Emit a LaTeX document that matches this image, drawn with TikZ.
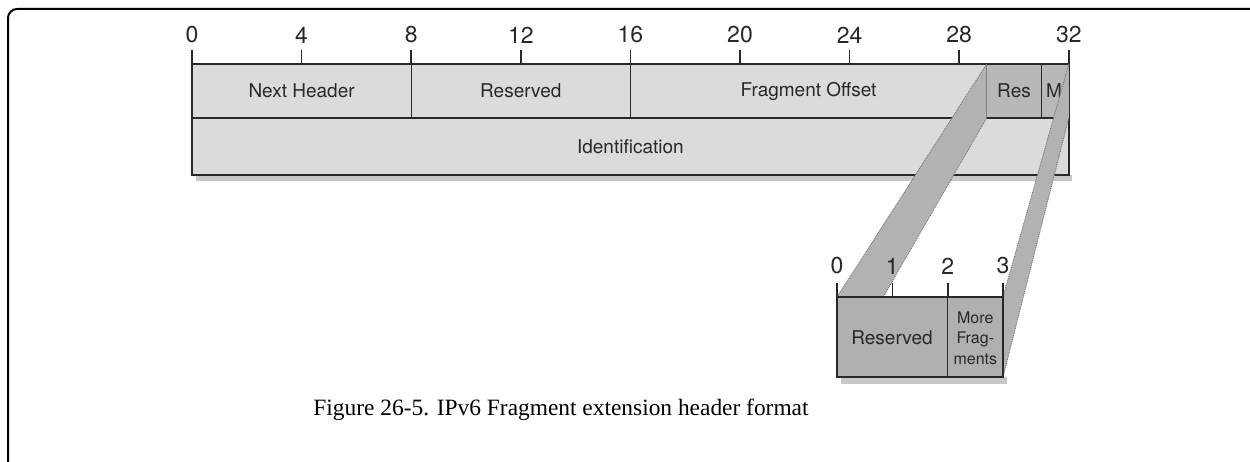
\documentclass[tikz,border=0pt]{standalone}
\usepackage{fontspec}
\setmainfont{Liberation Serif}
\newfontfamily\diafont{TeX Gyre Heros}
\definecolor{lightcell}{RGB}{219,219,219}
\definecolor{darkcell}{RGB}{184,184,184}
\definecolor{bandc}{RGB}{178,178,178}
\definecolor{boxc}{RGB}{176,176,176}
\definecolor{shadowc}{RGB}{200,200,200}
\definecolor{inkc}{RGB}{40,40,40}
\begin{document}
\begin{tikzpicture}[x=1pt,y=-1pt,
  lbl/.style={font=\diafont\fontsize{19}{21}\selectfont, text=inkc, inner sep=0pt},
  num/.style={font=\diafont\fontsize{23}{25}\selectfont, text=inkc, inner sep=0pt},
  small/.style={font=\diafont\fontsize{16}{20.5}\selectfont, text=inkc, align=center, inner sep=0pt},
  outline/.style={line width=2.6pt, draw=inkc},
  divider/.style={line width=1.3pt, draw=inkc},
  tick/.style={line width=1.6pt, draw=inkc},
  bandedge/.style={line width=0.9pt, draw=black!55, densely dotted},
  caption/.style={font=\fontsize{23.4}{26}\selectfont, inner sep=0pt}
]
\useasboundingbox (0,0) rectangle (1250,462);
% frame
\begin{scope}
  \clip (0,0) rectangle (1250,462);
  \draw[line width=2pt, rounded corners=9pt] (8,9) rectangle (1262,480);
\end{scope}

% ---------- top header ----------
\coordinate (t0) at (192,64);
\coordinate (t8) at (411.2,64);
\coordinate (t16) at (630.4,64);
\coordinate (t29) at (986.6,64);
\coordinate (t31) at (1041.4,64);
\coordinate (t32) at (1068.8,64);
\coordinate (m0) at (192,118);
\coordinate (m8) at (411.2,118);
\coordinate (m16) at (630.4,118);
\coordinate (m29) at (986.6,118);
\coordinate (m31) at (1041.4,118);
\coordinate (m32) at (1068.8,118);
\coordinate (b0) at (192,175);
\coordinate (b32) at (1068.8,175);

\fill[shadowc] (196,175) rectangle (1072,181);
\fill[lightcell] (t0) rectangle (b32);
\fill[darkcell] (t29) rectangle (m32);
\draw[divider] (m0) -- (m32);
\draw[divider] (t8) -- (m8);
\draw[divider] (t16) -- (m16);
\draw[divider] (t29) -- (m29);
\draw[divider] (t31) -- (m31);
\draw[outline] (t0) rectangle (b32);

\node[lbl] (nh) at (301.6,91) {Next Header};
\node[lbl] (rs) at (520.8,91) {Reserved};
\node[lbl] (fo) at (808.5,91) {Fragment Offset};
\node[lbl] (res) at (1014,91) {Res};
\node[lbl, anchor=west] (mf) at (1046,91) {M};
\node[lbl] (id) at (630.4,147) {Identification};

% ticks and bit numbers
\foreach \b in {0,4,...,32}{
  \pgfmathsetmacro{\xx}{192+27.4*\b}
  \draw[tick] (\xx,50) -- (\xx,64);
  \node[num] (n\b) at (\xx,35) {\b};
}

% ---------- projection bands ----------
\coordinate (s0) at (837,297);
\coordinate (s1) at (892.3,297);
\coordinate (s2) at (947.7,297);
\coordinate (s3) at (1003,297);
\coordinate (u0) at (837,377);
\coordinate (u2) at (947.7,377);
\coordinate (u3) at (1003,377);

\fill[bandc] (t29) -- (m29) -- (u0) -- (s0) -- cycle;
\draw[bandedge] (t29) -- (s0);
\draw[bandedge] (m29) -- (u0);
\fill[bandc] (t32) -- (m32) -- (u3) -- (s3) -- cycle;
\draw[bandedge] (t32) -- (s3);
\draw[bandedge] (m32) -- (u3);

% ---------- bottom flags ----------
\fill[shadowc] (841,377) rectangle (1007,384);
\fill[boxc] (s0) rectangle (u3);
\draw[divider] (s2) -- (u2);
\draw[outline] (s0) rectangle (u3);
\foreach \i/\xx in {0/837,1/892.3,2/947.7,3/1003}{
  \draw[tick] (\xx,283) -- (\xx,297);
  \node[num] (k\i) at (\xx,266) {\i};
}
\node[lbl] (rsv) at (892,338) {Reserved};
\node[small] (mfr) at (975.3,338) {More\\Frag-\\ments};

% caption
\node[caption] (cap) at (561,410) {Figure 26-5. IPv6 Fragment extension header format};
\end{tikzpicture}
\end{document}
